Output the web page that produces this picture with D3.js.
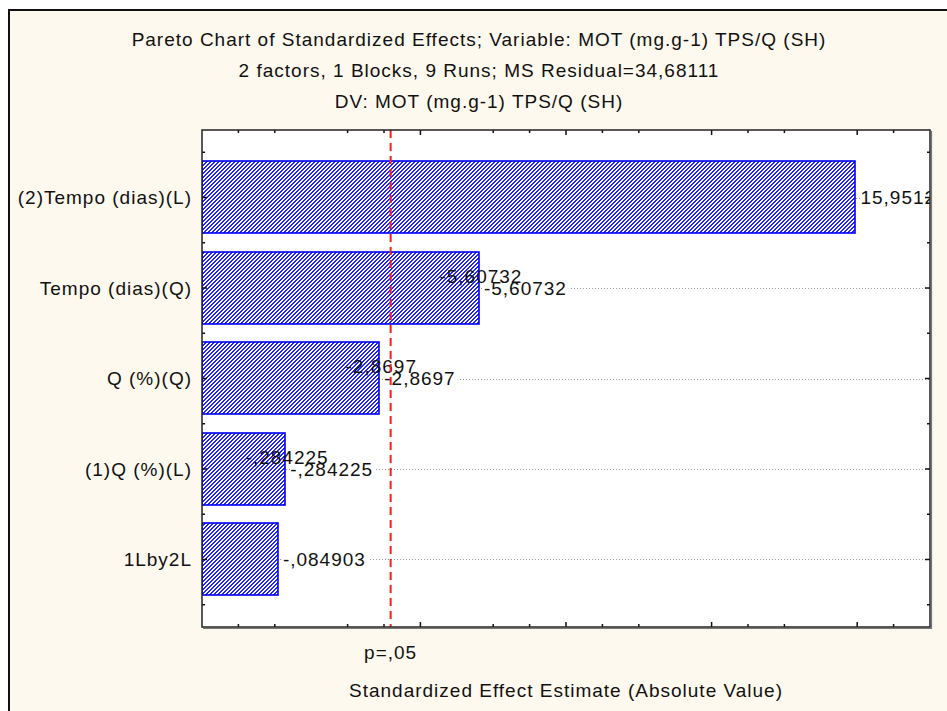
<!DOCTYPE html>
<html><head><meta charset="utf-8">
<script src="https://cdn.jsdelivr.net/npm/d3@7"></script>
<style>
html,body{margin:0;padding:0;background:#fff;}
svg text{font-family:"Liberation Sans",Arial,sans-serif;}
</style></head>
<body><svg id="c" width="947" height="711"></svg>
<script>
// ---- data ----
const titleLines = [
  "Pareto Chart of Standardized Effects; Variable: MOT (mg.g-1) TPS/Q (SH)",
  "2 factors, 1 Blocks, 9 Runs; MS Residual=34,68111",
  "DV: MOT (mg.g-1) TPS/Q (SH)"
];
const categories = ["(2)Tempo (dias)(L)", "Tempo (dias)(Q)", "Q (%)(Q)", "(1)Q (%)(L)", "1Lby2L"];
const effects = [15.95123, 5.60732, 2.8697, 0.284225, 0.084903];
const effectLabels = ["15,95123", "-5,60732", "-2,8697", "-,284225", "-,084903"];
const duplicated = [false, true, true, true, false];
const pCritical = 3.182446;
const pLabel = "p=,05";
const xDomain = [-2, 18];
const majorTicks = [4, 8, 12, 16];
const minorTicks = [-1, 0, 2, 3, 6, 7, 9, 10, 13, 14, 17];
const xTitle = "Standardized Effect Estimate (Absolute Value)";

// ---- layout ----
const W = 947, H = 711;
const plot = {left: 202, right: 930, top: 130, bottom: 627};
const svg = d3.select("#c");
const FS = 19, LS = 1.0;

svg.append("rect").attr("x", 9).attr("y", 10).attr("width", W).attr("height", H)
  .attr("fill", "#fef9ee").attr("stroke", "#111").attr("stroke-width", 2);

const defs = svg.append("defs");
const pat = defs.append("pattern").attr("id", "hatch").attr("patternUnits", "userSpaceOnUse")
  .attr("width", 4).attr("height", 4);
pat.append("rect").attr("width", 4).attr("height", 4).attr("fill", "#fff");
const px = [];
for (let r = 0; r < 4; r++) { px.push([(3 - r + 4) % 4, r]); px.push([(4 - r) % 4, r]); }
pat.selectAll("rect.p").data(px).join("rect").attr("class", "p")
  .attr("x", d => d[0]).attr("y", d => d[1]).attr("width", 1).attr("height", 1)
  .attr("fill", "#2222ff").attr("shape-rendering", "crispEdges");
defs.append("clipPath").attr("id", "pc").append("rect")
  .attr("x", plot.left).attr("y", plot.top)
  .attr("width", plot.right - plot.left).attr("height", plot.bottom - plot.top);

// titles
const titleY = [46, 77, 108];
titleLines.forEach((t, i) => {
  svg.append("text").attr("x", 479).attr("y", titleY[i]).attr("text-anchor", "middle")
    .attr("font-size", FS).attr("letter-spacing", LS).attr("fill", "#111").text(t);
});

svg.append("rect").attr("x", plot.left).attr("y", plot.top)
  .attr("width", plot.right - plot.left).attr("height", plot.bottom - plot.top).attr("fill", "#fff");

const x = d3.scaleLinear().domain(xDomain).range([plot.left, plot.right]);
const y = d3.scaleBand().domain(categories).range([plot.top, plot.bottom])
  .paddingInner(0.2).paddingOuter(0.346);

const g = svg.append("g").attr("clip-path", "url(#pc)");

// gridlines at band centers
g.selectAll("line.grid").data(categories).join("line").attr("class", "grid")
  .attr("x1", plot.left).attr("x2", plot.right)
  .attr("y1", d => Math.round(y(d) + y.bandwidth() / 2) + 0.5).attr("y2", d => Math.round(y(d) + y.bandwidth() / 2) + 0.5)
  .attr("stroke", "#999").attr("stroke-width", 1).attr("stroke-dasharray", "1,2");

const rows = categories.map((c, i) => ({c, v: effects[i], lab: effectLabels[i], dup: duplicated[i]}));
const bgLayer = g.append("g");
const barLayer = g.append("g");
const textLayer = g.append("g");

barLayer.selectAll("rect").data(rows).join("rect")
  .attr("x", plot.left)
  .attr("y", d => Math.round(y(d.c)))
  .attr("width", d => Math.round(x(d.v) - plot.left))
  .attr("height", Math.round(y.bandwidth()))
  .attr("fill", "url(#hatch)").attr("stroke", "#0000ff").attr("stroke-width", 1.6);

const lower = textLayer.selectAll("text.lo").data(rows).join("text").attr("class", "lo")
  .attr("x", d => x(d.v) + 5).attr("y", d => y(d.c) + y.bandwidth() / 2).attr("dy", "0.36em")
  .attr("font-size", FS).attr("letter-spacing", LS).attr("fill", "#111").text(d => d.lab);
lower.each(function() {
  const b = this.getBBox();
  bgLayer.append("rect").attr("x", b.x).attr("y", b.y + 3).attr("width", b.width + 2)
    .attr("height", b.height - 6).attr("fill", "#fff");
});
textLayer.selectAll("text.up").data(rows.filter(d => d.dup)).join("text").attr("class", "up")
  .attr("x", d => x(d.v) + 2).attr("y", d => y(d.c) + y.bandwidth() / 2 - 12).attr("dy", "0.36em")
  .attr("text-anchor", "middle")
  .attr("font-size", FS).attr("letter-spacing", LS).attr("fill", "#111").text(d => d.lab);

// p line
svg.append("line").attr("x1", x(pCritical)).attr("x2", x(pCritical))
  .attr("y1", plot.top).attr("y2", plot.bottom)
  .attr("stroke", "#ff1a1a").attr("stroke-width", 2).attr("stroke-dasharray", "8,5");

// axes (ticks inward)
function xTicks(vals, len, yy, dir) {
  svg.append("g").selectAll("line").data(vals).join("line")
    .attr("x1", d => x(d)).attr("x2", d => x(d))
    .attr("y1", yy).attr("y2", yy + dir * len)
    .attr("stroke", "#111").attr("stroke-width", 1.5);
}
xTicks(minorTicks, 3, plot.bottom, -1);
xTicks(majorTicks, 5, plot.bottom, -1);
xTicks(minorTicks, 3, plot.top, 1);
xTicks(majorTicks, 5, plot.top, 1);

const yMajor = categories.map(c => y(c) + y.bandwidth() / 2);
const yMinor = categories.map(c => y(c) - y.step() * y.paddingInner() / 2).concat([y(categories[4]) + y.step() - y.step() * y.paddingInner() / 2]);
function yTicks(vals, len, xx, dir) {
  svg.append("g").selectAll("line").data(vals).join("line")
    .attr("y1", d => d).attr("y2", d => d)
    .attr("x1", xx).attr("x2", xx + dir * len)
    .attr("stroke", "#111").attr("stroke-width", 1.5);
}
yTicks(yMajor, 5, plot.left, 1);
yTicks(yMinor, 3, plot.left, 1);
yTicks(yMajor, 5, plot.right, -1);
yTicks(yMinor, 3, plot.right, -1);

// frame
svg.append("rect").attr("x", plot.left).attr("y", plot.top)
  .attr("width", plot.right - plot.left).attr("height", plot.bottom - plot.top)
  .attr("fill", "none").attr("stroke", "#222").attr("stroke-width", 1.5);
svg.append("path").attr("d", `M${plot.right + 1.5},${plot.top + 1}V${plot.bottom + 1.5}H${plot.left + 1}`)
  .attr("fill", "none").attr("stroke", "#777").attr("stroke-width", 1.2);

// category labels
svg.append("g").selectAll("text").data(categories).join("text")
  .attr("x", plot.left - 10).attr("y", d => y(d) + y.bandwidth() / 2).attr("dy", "0.36em")
  .attr("text-anchor", "end").attr("font-size", FS).attr("letter-spacing", LS).attr("fill", "#111")
  .text(d => d);

svg.append("text").attr("x", x(pCritical)).attr("y", 652).attr("dy", "0.36em")
  .attr("text-anchor", "middle").attr("font-size", FS).attr("letter-spacing", LS).attr("fill", "#111").text(pLabel);
svg.append("text").attr("x", (plot.left + plot.right) / 2).attr("y", 690).attr("dy", "0.36em")
  .attr("text-anchor", "middle").attr("font-size", FS).attr("letter-spacing", LS).attr("fill", "#111").text(xTitle);
</script></body></html>
